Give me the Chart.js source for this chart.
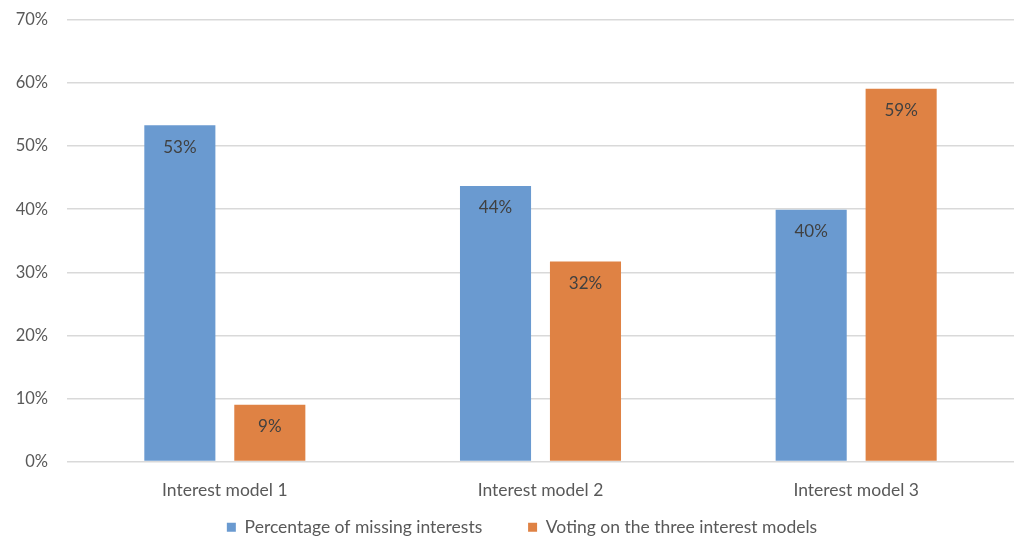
<!DOCTYPE html>
<html>
<head>
<meta charset="utf-8">
<script src="https://cdn.jsdelivr.net/npm/chart.js@4/dist/chart.umd.min.js"></script>
<style>
  html, body { margin: 0; padding: 0; background: #fff; }
  #wrap { width: 1014px; height: 536px; position: relative; }
</style>
</head>
<body>
<div id="wrap"><canvas id="chart"></canvas></div>
<script>
const categories = ['Interest model 1', 'Interest model 2', 'Interest model 3'];
const missingInterests = [53.3, 43.7, 39.9];
const votingModels = [9.0, 31.7, 59.1];
const seriesNames = ['Percentage of missing interests', 'Voting on the three interest models'];
const yTicks = [0, 10, 20, 30, 40, 50, 60, 70];

const textColor = '#595959';
const fontFamily = 'Lato, "Open Sans", sans-serif';

// value labels inside the top of each bar
const barLabels = {
    id: 'barLabels',
    afterDatasetsDraw(chart) {
        const ctx = chart.ctx;
        ctx.save();
        ctx.font = '17px ' + fontFamily;
        ctx.fillStyle = '#404040';
        ctx.textAlign = 'center';
        ctx.textBaseline = 'middle';
        chart.data.datasets.forEach((ds, i) => {
            chart.getDatasetMeta(i).data.forEach((bar, j) => {
                ctx.fillText(Math.round(ds.data[j]) + '%', bar.x, bar.y + 22);
            });
        });
        ctx.restore();
    }
};

// legend is centred under the whole plot, which runs past the right edge
const legendShift = {
    id: 'legendShift',
    afterLayout(chart) {
        chart.legend.left += 15;
        chart.legend.right += 15;
    }
};

new Chart(document.getElementById('chart'), {
    type: 'bar',
    data: {
        labels: categories,
        datasets: [
            { label: seriesNames[0], data: missingInterests, backgroundColor: '#6a9ad0' },
            { label: seriesNames[1], data: votingModels, backgroundColor: '#df8244' }
        ]
    },
    options: {
        responsive: true,
        maintainAspectRatio: false,
        animation: false,
        layout: { padding: { top: 20, right: 0, left: 0, bottom: -10 } },
        datasets: { bar: { categoryPercentage: 0.57, barPercentage: 0.79 } },
        plugins: {
            tooltip: { enabled: false },
            legend: {
                position: 'bottom',
                labels: {
                    color: textColor,
                    font: { family: fontFamily, size: 17.5 },
                    boxWidth: 9,
                    boxHeight: 9,
                    padding: 10,
                    // wider gap between the two entries
                    generateLabels(chart) {
                        const items = Chart.defaults.plugins.legend.labels.generateLabels(chart);
                        items[0].text += '        ';
                        return items;
                    }
                }
            }
        },
        scales: {
            x: {
                grid: { display: false },
                border: { display: false },
                afterFit(scale) { scale.height = 47; },
                ticks: { color: textColor, font: { family: fontFamily, size: 17.5 }, padding: 10 }
            },
            y: {
                min: 0,
                max: 70,
                afterFit(scale) {
                    scale.width = 67;
                    scale.paddingTop = 0;
                    scale.paddingBottom = 0;
                },
                afterBuildTicks(scale) { scale.ticks = yTicks.map(v => ({ value: v })); },
                grid: { color: '#d9d9d9', lineWidth: 1.5, drawTicks: false },
                border: { display: false },
                ticks: {
                    color: textColor,
                    font: { family: fontFamily, size: 16.5 },
                    padding: 19,
                    callback: v => v + '%'
                }
            }
        }
    },
    plugins: [barLabels, legendShift]
});
</script>
</body>
</html>
